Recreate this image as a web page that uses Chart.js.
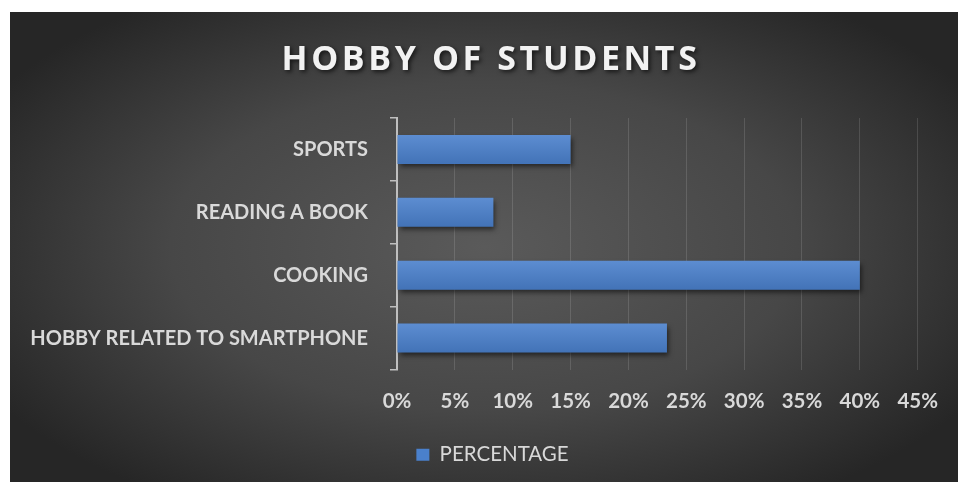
<!DOCTYPE html>
<html>
<head>
<meta charset="utf-8">
<script src="https://cdn.jsdelivr.net/npm/chart.js@4/dist/chart.umd.min.js"></script>
<style>
  html, body { margin: 0; padding: 0; background: #ffffff; }
  #wrap { position: absolute; left: 10px; top: 12px; width: 948px; height: 470px; }
  canvas { display: block; }
</style>
</head>
<body>
<div id="wrap"><canvas id="chart" width="948" height="470"></canvas></div>
<script>
// Survey: share of students per hobby
const chartTitle = 'HOBBY OF STUDENTS';
const categories = ['SPORTS', 'READING A BOOK', 'COOKING', 'HOBBY RELATED TO SMARTPHONE'];
const percentages = [15, 8.33, 40, 23.33];
const seriesName = 'PERCENTAGE';
const axisMax = 45;
const axisStep = 5;

const FONT = 'Lato, "Open Sans", sans-serif';
const LABEL = '#d9d9d9';

// dark backdrop, lighter towards the middle
const backdrop = {
  id: 'backdrop',
  beforeDraw(chart) {
    const { ctx, width, height } = chart;
    ctx.save();
    ctx.translate(width / 2, height / 2);
    ctx.scale(1.9, 1);
    const g = ctx.createRadialGradient(0, 0, 0, 0, 0, 300);
    g.addColorStop(0, '#5a5a5a');
    g.addColorStop(0.55, '#474747');
    g.addColorStop(1, '#262626');
    ctx.fillStyle = g;
    ctx.fillRect(-width, -height, width * 2, height * 2);
    ctx.restore();
  }
};

// heading with a soft drop shadow
const headline = {
  id: 'headline',
  afterDraw(chart) {
    const { ctx } = chart;
    ctx.save();
    ctx.font = 'bold 34px "Open Sans", sans-serif';
    ctx.letterSpacing = '3.6px';
    ctx.fillStyle = '#f2f2f2';
    ctx.textAlign = 'center';
    ctx.textBaseline = 'alphabetic';
    ctx.shadowColor = 'rgba(0,0,0,0.65)';
    ctx.shadowOffsetX = 2;
    ctx.shadowOffsetY = 2;
    ctx.shadowBlur = 4;
    ctx.fillText(chartTitle, 481, 58);
    ctx.restore();
  }
};

// legend sits a little right of the canvas centre, under the value axis
const legendNudge = {
  id: 'legendNudge',
  afterLayout(chart) {
    const lg = chart.legend;
    if (lg) { lg.left += 22.5; lg.right += 22.5; }
  }
};

// shadow under the bars, plus a slight top-to-bottom sheen
const barShade = {
  id: 'barShade',
  beforeDatasetsDraw(chart) {
    const { ctx } = chart;
    ctx.save();
    ctx.shadowColor = 'rgba(0,0,0,0.55)';
    ctx.shadowOffsetX = 2;
    ctx.shadowOffsetY = 3;
    ctx.shadowBlur = 5;
  },
  afterDatasetsDraw(chart) {
    const { ctx } = chart;
    ctx.restore();
    const meta = chart.getDatasetMeta(0);
    ctx.save();
    meta.data.forEach(bar => {
      const top = bar.y - bar.height / 2;
      const g = ctx.createLinearGradient(0, top, 0, top + bar.height);
      g.addColorStop(0, 'rgba(255,255,255,0.10)');
      g.addColorStop(1, 'rgba(0,0,0,0.10)');
      ctx.fillStyle = g;
      ctx.fillRect(bar.base, top, bar.x - bar.base, bar.height);
    });
    ctx.restore();
  }
};

new Chart(document.getElementById('chart'), {
  type: 'bar',
  data: {
    labels: categories,
    datasets: [{
      label: seriesName,
      data: percentages,
      backgroundColor: '#4a80cc',
      borderWidth: 0,
      barPercentage: 0.46,
      categoryPercentage: 1
    }]
  },
  options: {
    indexAxis: 'y',
    responsive: false,
    animation: false,
    layout: { padding: { left: 10, top: 106, right: 38, bottom: 7 } },
    scales: {
      x: {
        min: 0,
        max: axisMax,
        grid: { color: 'rgba(255,255,255,0.13)', lineWidth: 1, drawTicks: false },
        border: { display: false },
        ticks: {
          stepSize: axisStep,
          padding: 20,
          color: LABEL,
          font: { family: FONT, size: 20.5, weight: 'bold' },
          callback: v => v + '%'
        },
        afterFit(scale) { scale.height = 65; }
      },
      y: {
        grid: { drawOnChartArea: false, drawTicks: true, tickLength: 7, color: '#bfbfbf', lineWidth: 1.5 },
        border: { display: true, color: '#bfbfbf', width: 2 },
        ticks: {
          padding: 22,
          color: LABEL,
          font: { family: FONT, size: 20, weight: 'bold' }
        },
        afterFit(scale) { scale.width = 377; }
      }
    },
    plugins: {
      legend: {
        position: 'bottom',
        labels: {
          color: LABEL,
          boxWidth: 13,
          boxHeight: 12,
          font: { family: FONT, size: 20.5 },
          padding: 10
        }
      },
      tooltip: { enabled: false }
    }
  },
  plugins: [backdrop, barShade, headline, legendNudge]
});
</script>
</body>
</html>
